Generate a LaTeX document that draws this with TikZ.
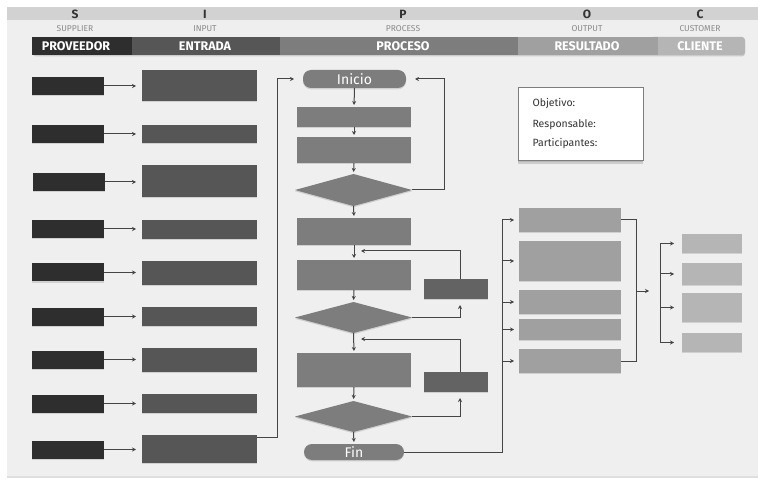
\documentclass[tikz,border=0pt]{standalone}
\usepackage{fontspec}
\setmainfont{Fira Sans}
\usetikzlibrary{shapes.geometric,shadows,arrows.meta}
\definecolor{panelc}{HTML}{EFEFEF}
\definecolor{bandc}{HTML}{D2D2D2}
\definecolor{supc}{HTML}{2E2E2E}
\definecolor{inc}{HTML}{565656}
\definecolor{procc}{HTML}{7D7D7D}
\definecolor{sidec}{HTML}{636363}
\definecolor{outc}{HTML}{A0A0A0}
\definecolor{custc}{HTML}{B5B5B5}
\definecolor{linec}{HTML}{454545}
\definecolor{lettc}{HTML}{333333}
\definecolor{subc}{HTML}{8A8A8A}
\tikzset{
  blk/.style={inner sep=0pt, outer sep=0pt, draw=none,
    drop shadow={shadow xshift=0pt, shadow yshift=-1.3pt, opacity=0.28}},
  supbox/.style={blk, fill=supc, minimum width=72pt, minimum height=18pt},
  inbox/.style={blk, fill=inc, minimum width=115pt},
  procbox/.style={blk, fill=procc, minimum width=114pt},
  decbox/.style={blk, fill=procc, diamond, minimum width=117pt},
  termbox/.style={blk, fill=procc, rounded corners=8pt, text=white,
    font=\fontsize{14}{14}\selectfont},
  loopbox/.style={blk, fill=sidec, minimum width=64pt, minimum height=20pt},
  outbox/.style={blk, fill=outc, minimum width=102pt},
  custbox/.style={blk, fill=custc, minimum width=60pt},
  wire/.style={draw=linec, line width=1pt},
  conn/.style={wire, -{Stealth[length=4pt,width=4pt]}},
  letter/.style={text=lettc, font=\fontsize{12}{12}\selectfont\bfseries},
  sublab/.style={text=subc, font=\fontsize{8.5}{9}\selectfont},
  hdrtext/.style={text=white, font=\fontsize{12.5}{12.5}\selectfont\bfseries},
  infotext/.style={text=lettc, anchor=west, font=\fontsize{10.5}{12}\selectfont},
}
\begin{document}
\begin{tikzpicture}[x=1pt,y=-1pt]
\useasboundingbox (0,0) rectangle (758,481);
% page and panel
\fill[white] (0,0) rectangle (758,481);
\fill[panelc] (7,7) rectangle (758,476);
\fill[bandc!70] (7,476) rectangle (758,478);
\fill[bandc] (7,7) rectangle (758,20);

% SIPOC letters and English labels
\node[letter] (ls) at (75,14) {S};
\node[letter] (li) at (205,14) {I};
\node[letter] (lp) at (403,14) {P};
\node[letter] (lo) at (587,14) {O};
\node[letter] (lc) at (700,14) {C};
\node[sublab] (es) at (75,29) {SUPPLIER};
\node[sublab] (ei) at (205,29) {INPUT};
\node[sublab] (ep) at (403,29) {PROCESS};
\node[sublab] (eo) at (587,29) {OUTPUT};
\node[sublab] (ec) at (700,29) {CUSTOMER};

% header bar
\fill[black, opacity=0.15, rounded corners=3pt] (33,38.5) rectangle (745,56.5);
\fill[custc, rounded corners=3pt] (650,37) rectangle (745,55);
\fill[supc] (32,37) rectangle (132,55);
\fill[inc] (132,37) rectangle (280,55);
\fill[procc] (280,37) rectangle (518,55);
\fill[outc] (518,37) rectangle (658,55);
\node[hdrtext] (hs) at (76,46) {PROVEEDOR};
\node[hdrtext] (hi) at (205,46) {ENTRADA};
\node[hdrtext] (hp) at (403,46) {PROCESO};
\node[hdrtext] (ho) at (587,46) {RESULTADO};
\node[hdrtext] (hc) at (700,46) {CLIENTE};

% suppliers
\node[supbox] (s1) at (68,86) {};
\node[supbox] (s2) at (68,134) {};
\node[supbox] (s3) at (69,182) {};
\node[supbox] (s4) at (68,229) {};
\node[supbox] (s5) at (68,272.5) {};
\node[supbox] (s6) at (68,316.5) {};
\node[supbox] (s7) at (68,359.5) {};
\node[supbox] (s8) at (68,403.5) {};
\node[supbox] (s9) at (68,449.5) {};

% inputs
\node[inbox, minimum height=31pt] (i1) at (199.5,85.5) {};
\node[inbox, minimum height=18pt] (i2) at (199.5,134) {};
\node[inbox, minimum height=32pt] (i3) at (199.5,181) {};
\node[inbox, minimum height=19pt] (i4) at (199.5,229.5) {};
\node[inbox, minimum height=24pt] (i5) at (199.5,273) {};
\node[inbox, minimum height=19pt] (i6) at (199.5,316.5) {};
\node[inbox, minimum height=24pt] (i7) at (199.5,360) {};
\node[inbox, minimum height=19pt] (i8) at (199.5,403.5) {};
\node[inbox, minimum height=28pt] (i9) at (199.5,449) {};

\foreach \k in {1,...,9}{
  \draw[conn, shorten >=6pt] (s\k.east) -- (s\k.east -| i\k.west);
}

% process flow
\node[termbox, minimum width=103pt, minimum height=18pt] (ini) at (354.5,79) {Inicio};
\node[procbox, minimum height=20pt] (p1) at (354,117) {};
\node[procbox, minimum height=26pt] (p2) at (354,150) {};
\node[decbox, minimum height=32pt] (d1) at (353.5,190) {};
\node[procbox, minimum height=27pt] (p3) at (354,231.5) {};
\node[procbox, minimum height=30pt] (p4) at (354,275) {};
\node[decbox, minimum height=31pt] (d2) at (353.5,317.5) {};
\node[procbox, minimum height=34pt] (p5) at (354,370) {};
\node[decbox, minimum height=31pt] (d3) at (353.5,416.5) {};
\node[termbox, minimum width=100pt, minimum height=16pt] (fin) at (354,452) {Fin};

\node[loopbox] (r1) at (456,289) {};
\node[loopbox] (r2) at (456,382) {};

% last input feeds the start
\draw[conn, shorten >=9pt] ([yshift=-2pt]i9.north east) -- ++(20,0) |- (ini.west);

% main downward flow
\draw[conn, shorten >=2pt] (ini.south) -- (p1.north);
\draw[conn, shorten >=2pt] (p1.south) -- (p2.north);
\draw[conn, shorten >=2pt] (p2.south) -- (d1.north);
\draw[conn, shorten >=2pt] (d1.south) -- (p3.north);
\draw[conn, shorten >=2pt] (p3.south) -- (p4.north);
\draw[conn, shorten >=2pt] (p4.south) -- (d2.north);
\draw[conn, shorten >=2pt] (d2.south) -- (p5.north);
\draw[conn, shorten >=2pt] (p5.south) -- (d3.north);
\draw[conn, shorten >=2pt] (d3.south) -- (fin.north);

% loop back to the start
\coordinate (lx) at (444,0);
\draw[conn, shorten >=9pt] (d1.east) -- (lx |- d1.east) |- (ini.east);

% correction loops
\coordinate (j1) at (354,251);
\coordinate (j2) at (354,339);
\draw[conn, shorten >=7pt] ([xshift=4pt]r1.north) |- (j1);
\draw[conn, shorten >=6pt] (d2.east) -| ([xshift=4pt]r1.south);
\draw[conn, shorten >=7pt] ([xshift=4pt]r2.north) |- (j2);
\draw[conn, shorten >=6pt] (d3.east) -| ([xshift=4pt]r2.south);

% outputs
\node[outbox, minimum height=24pt] (o1) at (570,220) {};
\node[outbox, minimum height=40pt] (o2) at (570,261) {};
\node[outbox, minimum height=24pt] (o3) at (570,302) {};
\node[outbox, minimum height=21pt] (o4) at (570,329.5) {};
\node[outbox, minimum height=24pt] (o5) at (570,361) {};

\coordinate (bus) at (502,0);
\draw[wire] (fin.east) -| (bus |- o1.west);
\foreach \k in {1,...,5}{
  \draw[conn, shorten >=5pt] (bus |- o\k.west) -- (o\k.west);
}

% outputs gathered towards the customers
\coordinate (br) at (636,0);
\coordinate (brmid) at (636,291);
\coordinate (brend) at (649,291);
\draw[wire] (o1.east) -- (br |- o1.east) -- (br |- o5.east) -- (o5.east);
\draw[conn] (brmid) -- (brend);

% customers
\node[custbox, minimum height=19pt] (c1) at (712,243.5) {};
\node[custbox, minimum height=22pt] (c2) at (712,274) {};
\node[custbox, minimum height=29pt] (c3) at (712,307.5) {};
\node[custbox, minimum height=19pt] (c4) at (712,342.5) {};

\coordinate (cb) at (660,0);
\draw[wire] (cb |- c1.west) -- (cb |- c4.west);
\foreach \k in {1,...,4}{
  \draw[conn, shorten >=8pt] (cb |- c\k.west) -- (c\k.west);
}

% information card
\node[blk, fill=white, draw=procc, line width=1pt, minimum width=125pt,
  minimum height=73pt, drop shadow={shadow xshift=0pt, shadow yshift=-3pt, opacity=0.3}]
  (info) at (580.5,124.5) {};
\node[infotext] (t1) at (529,104) {Objetivo:};
\node[infotext] (t2) at (529,125) {Responsable:};
\node[infotext] (t3) at (529,144) {Participantes:};
\end{tikzpicture}
\end{document}
